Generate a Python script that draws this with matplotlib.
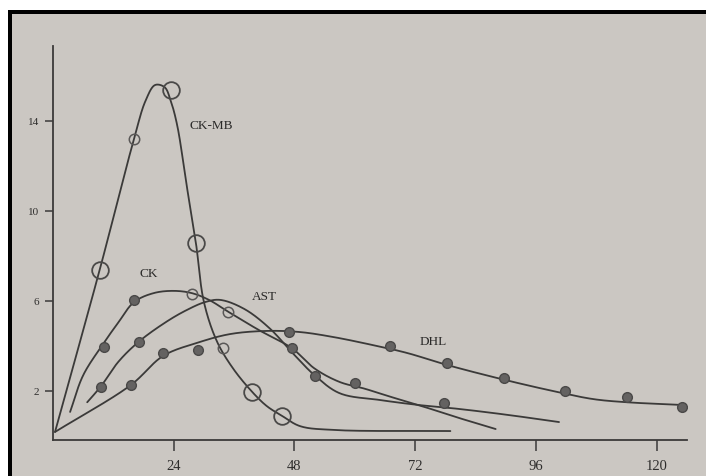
import numpy as np
import matplotlib
matplotlib.use("Agg")
import matplotlib.pyplot as plt
from matplotlib.patches import Rectangle

# ---- enzyme curves (hours after onset, relative activity) ----
ckmb_h = [0.4, 9.3, 16.1, 18.4, 20.3, 22.2, 23.4, 24.7, 26.6, 28.4, 30.0, 32.6, 35.8, 39.6, 42.5, 45.5, 49.1, 55.7, 79.0]
ckmb_v = [0.18, 7.4, 13.2, 14.9, 15.6, 15.5, 14.9, 13.8, 11.1, 8.6, 5.96, 4.2, 3.0, 1.96, 1.33, 0.9, 0.44, 0.27, 0.22]

ck_h = [3.4, 6.0, 10.0, 13.0, 16.1, 20.0, 24.0, 27.6, 31.0, 35.0, 41.0, 47.5, 52.0, 57.0, 62.0, 67.0, 72.6, 80.0, 88.0]
ck_v = [1.07, 2.7, 4.1, 5.05, 5.95, 6.35, 6.45, 6.35, 6.05, 5.5, 4.7, 3.9, 3.0, 2.4, 2.1, 1.75, 1.38, 0.85, 0.31]

ast_h = [6.8, 9.5, 13.0, 17.1, 22.7, 26.6, 30.2, 33.2, 38.0, 43.0, 48.0, 52.0, 57.0, 65.0, 72.6, 80.0, 90.0, 100.6]
ast_v = [1.5, 2.2, 3.3, 4.2, 5.1, 5.6, 5.95, 6.05, 5.65, 4.8, 3.6, 2.7, 1.9, 1.6, 1.38, 1.22, 0.95, 0.62]

dhl_h = [0.4, 15.5, 21.9, 28.8, 35.2, 42.5, 49.1, 55.7, 63.6, 70.4, 78.3, 89.9, 100.2, 107.4, 114.1, 125.0]
dhl_v = [0.18, 2.27, 3.56, 4.15, 4.53, 4.67, 4.62, 4.4, 4.04, 3.69, 3.16, 2.49, 1.96, 1.64, 1.5, 1.38]

# ---- measured points ----
ckmb_big_h = [9.3, 23.5, 28.4, 39.6, 45.5]
ckmb_big_v = [7.4, 15.4, 8.6, 1.96, 0.9]
open_small_h = [16.1, 27.6, 34.8, 33.8]
open_small_v = [13.2, 6.3, 5.5, 3.9]

ck_dots_h = [10.1, 16.1]
ck_dots_v = [3.96, 6.04]
ast_dots_h = [9.5, 17.1]
ast_dots_v = [2.18, 4.2]
late_dots_h = [47.5, 52.1, 60.0, 77.7]
late_dots_v = [3.9, 2.67, 2.36, 1.47]
dhl_dots_h = [15.5, 21.9, 28.8, 46.9, 67.0, 78.3, 89.7, 101.8, 114.1, 125.0]
dhl_dots_v = [2.27, 3.7, 3.82, 4.62, 4.0, 3.24, 2.58, 2.0, 1.73, 1.29]

x_ticks = [24, 48, 72, 96, 120]
y_ticks = [2, 6, 10, 14]

labels = [("CK-MB", 31.4, 13.8), ("CK", 19.1, 7.24), ("AST", 42.1, 6.2), ("DHL", 75.5, 4.2)]

PX_PER_H, PX_PER_V = 5.03, 22.5


def smooth(xs, ys, n=30):
    """Centripetal Catmull-Rom spline through the points (spacing measured in pixels)."""
    p = np.column_stack([np.asarray(xs) * PX_PER_H, np.asarray(ys) * PX_PER_V]).astype(float)
    p = np.vstack([2 * p[0] - p[1], p, 2 * p[-1] - p[-2]])
    out = []
    for i in range(1, len(p) - 2):
        p0, p1, p2, p3 = p[i - 1], p[i], p[i + 1], p[i + 2]
        t0 = 0.0
        t1 = t0 + np.linalg.norm(p1 - p0) ** 0.5
        t2 = t1 + np.linalg.norm(p2 - p1) ** 0.5
        t3 = t2 + np.linalg.norm(p3 - p2) ** 0.5
        t = np.linspace(t1, t2, n, endpoint=False)[:, None]
        a1 = (t1 - t) / (t1 - t0) * p0 + (t - t0) / (t1 - t0) * p1
        a2 = (t2 - t) / (t2 - t1) * p1 + (t - t1) / (t2 - t1) * p2
        a3 = (t3 - t) / (t3 - t2) * p2 + (t - t2) / (t3 - t2) * p3
        b1 = (t2 - t) / (t2 - t0) * a1 + (t - t0) / (t2 - t0) * a2
        b2 = (t3 - t) / (t3 - t1) * a2 + (t - t1) / (t3 - t1) * a3
        out.append((t2 - t) / (t2 - t1) * b1 + (t - t1) / (t2 - t1) * b2)
    out.append(p[-2][None, :])
    out = np.vstack(out)
    return out[:, 0] / PX_PER_H, out[:, 1] / PX_PER_V


W, H = 706, 477
paper = "#cbc7c2"
ink = "#3b3a39"

fig = plt.figure(figsize=(W / 100, H / 100), dpi=100)
fig.patch.set_facecolor(paper)

# page edge: white margin and black frame
fig.add_artist(Rectangle((0, (H - 11) / H), 1, 11 / H, transform=fig.transFigure,
                         facecolor="white", edgecolor="none", zorder=0))
fig.add_artist(Rectangle((0, 0), 8 / W, 1, transform=fig.transFigure,
                         facecolor="white", edgecolor="none", zorder=0))
fig.add_artist(Rectangle((8 / W, (H - 15) / H), 1, 4 / H, transform=fig.transFigure,
                         facecolor="black", edgecolor="none", zorder=1))
fig.add_artist(Rectangle((8 / W, 0), 4 / W, (H - 11) / H, transform=fig.transFigure,
                         facecolor="black", edgecolor="none", zorder=1))

# axes placed in pixel units: x0=53px, x126=687px; y=-0.18 at 441px, top at 47px
left, right, bottom, top = 53, 687, 441, 47
ax = fig.add_axes([left / W, (H - bottom) / H, (right - left) / W, (bottom - top) / H])
ax.set_facecolor("none")
ax.set_xlim(0, (right - left) / PX_PER_H)
ax.set_ylim((437 - bottom) / PX_PER_V, (437 - top) / PX_PER_V)

for s in ["top", "right"]:
    ax.spines[s].set_visible(False)
for s in ["left", "bottom"]:
    ax.spines[s].set_color(ink)
    ax.spines[s].set_linewidth(1.3)

serif = ["Liberation Serif", "DejaVu Serif"]
ax.set_xticks(x_ticks)
ax.set_xticklabels([str(t) for t in x_ticks], family=serif, fontsize=10.5, color="#2e2d2c")
ax.set_yticks(y_ticks)
ax.set_yticklabels([str(t) for t in y_ticks], family=serif, fontsize=8, color="#2e2d2c")
ax.tick_params(axis="x", length=8, width=1.1, color=ink, pad=6)
ax.tick_params(axis="y", length=6, width=1.1, color=ink, pad=4)

lw = 1.3
for hs, vs in [(ckmb_h, ckmb_v), (ck_h, ck_v), (ast_h, ast_v), (dhl_h, dhl_v)]:
    sx, sy = smooth(hs, vs)
    ax.plot(sx, sy, color=ink, lw=lw, solid_capstyle="round", zorder=2)

ax.plot(ckmb_big_h, ckmb_big_v, "o", ms=12, mfc="none", mec="#4a4948", mew=1.3, zorder=3)
ax.plot(open_small_h, open_small_v, "o", ms=7.5, mfc="none", mec="#5a5857", mew=1.1, zorder=3)

dot_h = ck_dots_h + ast_dots_h + late_dots_h + dhl_dots_h
dot_v = ck_dots_v + ast_dots_v + late_dots_v + dhl_dots_v
ax.plot(dot_h, dot_v, "o", ms=7, mfc="#646261", mec="#4a4948", mew=1.0, zorder=3)

for text, hx, vy in labels:
    ax.text(hx, vy, text, family=serif, fontsize=9.5, color="#2a2928",
            ha="center", va="center", zorder=4)

fig.savefig("out.png", dpi=100, facecolor=fig.get_facecolor())
